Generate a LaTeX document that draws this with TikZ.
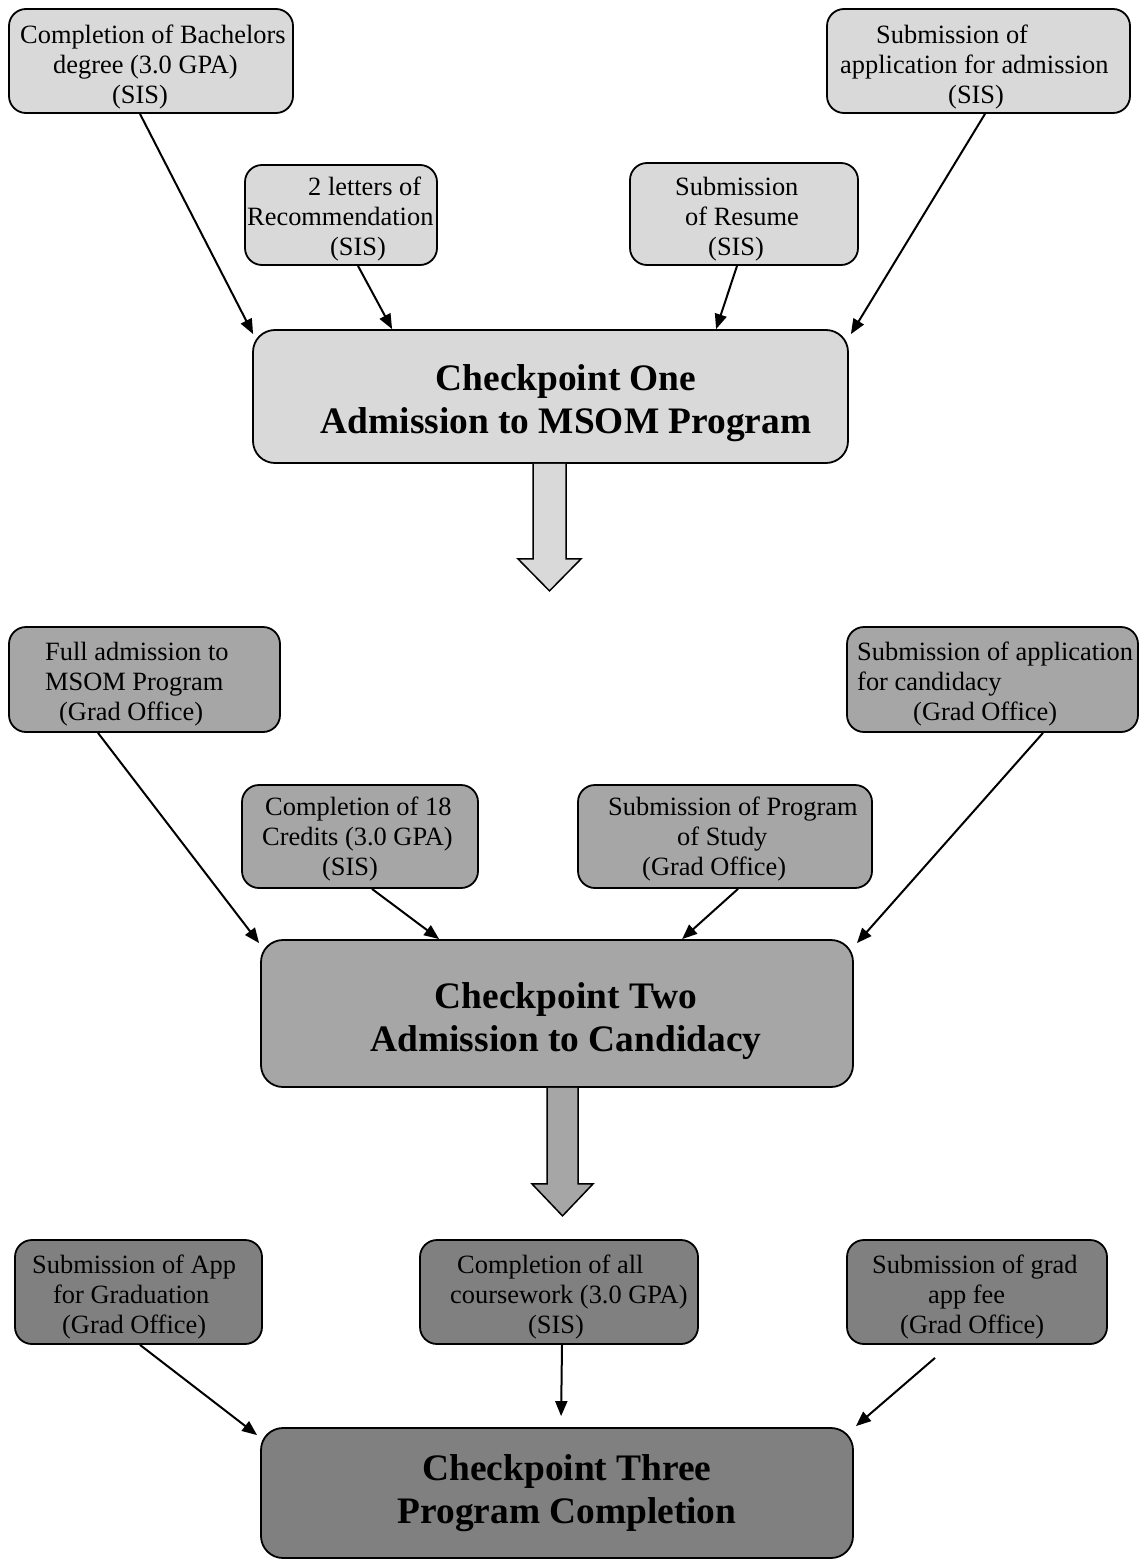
\documentclass[tikz,border=0pt]{standalone}
\usepackage{fontspec}
\setmainfont{Liberation Serif}
\usetikzlibrary{arrows.meta,calc}
\definecolor{gL}{HTML}{D9D9D9}
\definecolor{gM}{HTML}{A6A6A6}
\definecolor{gD}{HTML}{808080}
\tikzset{
  box/.style={draw, line width=1.8pt, rounded corners=17pt, inner sep=0pt},
  bigbox/.style={draw, line width=1.8pt, rounded corners=22pt, inner sep=0pt},
  txt/.style={inner sep=0pt, align=left, anchor=north west, font=\fontsize{26.4}{30}\selectfont},
  bigtxt/.style={inner sep=0pt, align=center, anchor=north, font=\fontsize{37.4}{43}\selectfont\bfseries},
  conn/.style={line width=2pt, -{Triangle[length=15pt,width=12pt]}},
  barrow/.style={draw, line width=1.5pt, line join=miter}
}
\begin{document}
\begin{tikzpicture}[x=1pt,y=-1pt]
\useasboundingbox (0,0) rectangle (1139,1560);
% ---- row 1
\node[box, fill=gL, minimum width=284pt, minimum height=104pt] (a1) at (151,61) {};
\node[txt] (a1t) at (20,25) {Completion of Bachelors\\\hspace*{33pt}degree (3.0 GPA)\\\hspace*{92pt}(SIS)};
\node[box, fill=gL, minimum width=192pt, minimum height=100pt] (a2) at (341,215) {};
\node[txt] (a2t) at (247,177) {\hspace*{61pt}2 letters of\\Recommendation\\\hspace*{83pt}(SIS)};
\node[box, fill=gL, minimum width=228pt, minimum height=102pt] (a3) at (744,214) {};
\node[txt] (a3t) at (675,177) {Submission\\\hspace*{10pt}of Resume\\\hspace*{33pt}(SIS)};
\node[box, fill=gL, minimum width=303pt, minimum height=104pt] (a4) at (978.5,61) {};
\node[txt] (a4t) at (840,25) {\hspace*{36pt}Submission of\\application for admission\\\hspace*{108pt}(SIS)};
\node[bigbox, fill=gL, minimum width=595pt, minimum height=133pt] (c1) at (550.5,396.5) {};
\node[bigtxt] (c1t) at (566,364) {Checkpoint One\\Admission to MSOM Program};
% ---- row 2
\node[box, fill=gM, minimum width=271pt, minimum height=105pt] (b1) at (144.5,679.5) {};
\node[txt] (b1t) at (45,642) {Full admission to\\MSOM Program\\\hspace*{14pt}(Grad Office)};
\node[box, fill=gM, minimum width=236pt, minimum height=103pt] (b2) at (360,836.5) {};
\node[txt] (b2t) at (262,797) {\hspace*{3pt}Completion of 18\\Credits (3.0 GPA)\\\hspace*{60pt}(SIS)};
\node[box, fill=gM, minimum width=294pt, minimum height=103pt] (b3) at (725,836.5) {};
\node[txt] (b3t) at (608,797) {Submission of Program\\\hspace*{69pt}of Study\\\hspace*{34pt}(Grad Office)};
\node[box, fill=gM, minimum width=291pt, minimum height=105pt] (b4) at (992.5,679.5) {};
\node[txt] (b4t) at (857,642) {Submission of application\\for candidacy\\\hspace*{56pt}(Grad Office)};
\node[bigbox, fill=gM, minimum width=592pt, minimum height=147pt] (c2) at (557,1013.5) {};
\node[bigtxt] (c2t) at (566,982) {Checkpoint Two\\Admission to Candidacy};
% ---- row 3
\node[box, fill=gD, minimum width=247pt, minimum height=104pt] (d1) at (138.5,1292) {};
\node[txt] (d1t) at (32,1255) {Submission of App\\\hspace*{21pt}for Graduation\\\hspace*{30pt}(Grad Office)};
\node[box, fill=gD, minimum width=278pt, minimum height=104pt] (d2) at (559,1292) {};
\node[txt] (d2t) at (450,1255) {\hspace*{7pt}Completion of all\\coursework (3.0 GPA)\\\hspace*{78pt}(SIS)};
\node[box, fill=gD, minimum width=260pt, minimum height=104pt] (d3) at (977,1292) {};
\node[txt] (d3t) at (872,1255) {Submission of grad\\\hspace*{56pt}app fee\\\hspace*{28pt}(Grad Office)};
\node[bigbox, fill=gD, minimum width=592pt, minimum height=130pt] (c3) at (557,1493) {};
\node[bigtxt] (c3t) at (567,1454) {Checkpoint Three\\Program Completion};
% ---- connectors row 1
\draw[conn] ($(a1.south)+(-11,0)$) -- ($(c1.north west)+(1,5)$);
\draw[conn] ($(a2.south)+(17,0)$) -- ($(c1.north west)+(140,0)$);
\draw[conn] ($(a3.south)+(-7,0)$) -- ($(c1.north west)+(464,0)$);
\draw[conn] ($(a4.south)+(6.5,0)$) -- ($(c1.north east)+(2,5)$);
% ---- connectors row 2
\draw[conn] ($(b1.south)+(-46.5,0)$) -- ($(c2.north west)+(-1,4)$);
\draw[conn] ($(b2.south)+(12,0)$) -- ($(c2.north west)+(179,0)$);
\draw[conn] ($(b3.south)+(13,0)$) -- ($(c2.north west)+(422,0)$);
\draw[conn] ($(b4.south)+(50.5,0)$) -- ($(c2.north east)+(3,4)$);
% ---- connectors row 3
\draw[conn] ($(d1.south)+(1.5,0)$) -- ($(c3.north west)+(-3,8)$);
\draw[conn] ($(d2.south)+(3,0)$) -- ($(c3.north west)+(301,-11)$);
\draw[conn] ($(d3.south)+(-42,13)$) -- ($(c3.north east)+(2,-1)$);
% ---- block arrows
\draw[barrow, fill=gL] ($(c1.south)+(-17.5,0)$) -- ++(0,95) -- ++(-15,0) -- ++(31.5,32) -- ++(31.5,-32) -- ++(-15,0) -- ++(0,-95);
\draw[barrow, fill=gM] ($(c2.south)+(-10,0)$) -- ++(0,96) -- ++(-15,0) -- ++(30.5,32) -- ++(30.5,-32) -- ++(-15,0) -- ++(0,-96);
\end{tikzpicture}
\end{document}
